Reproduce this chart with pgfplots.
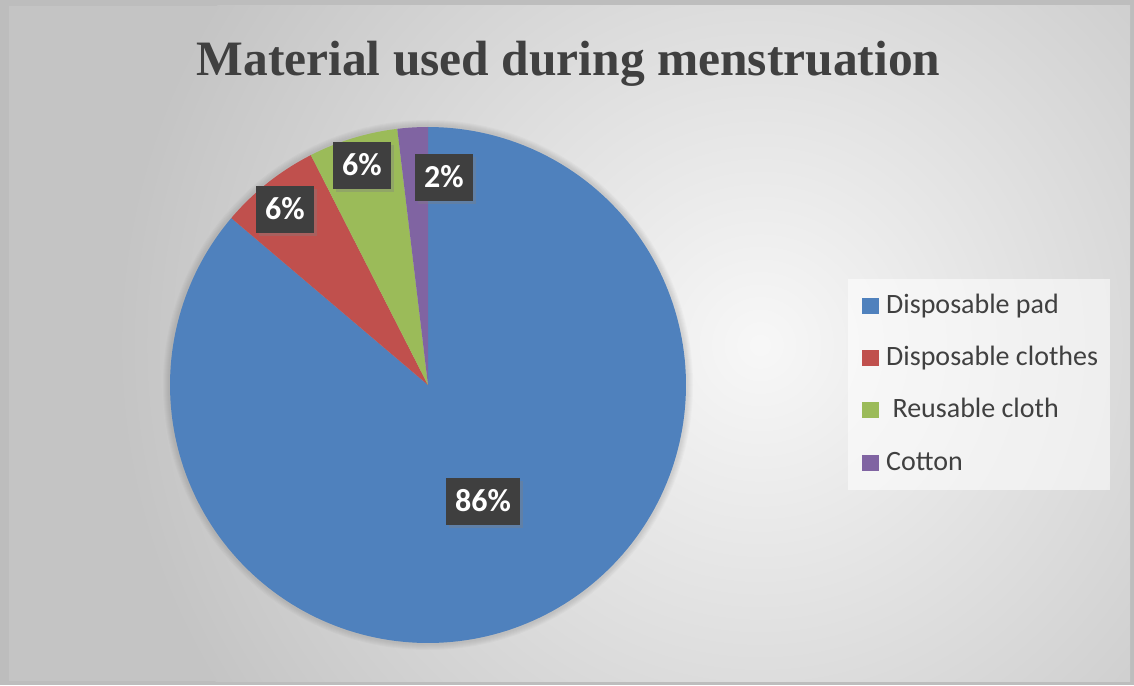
\documentclass[border=0pt]{standalone}
\usepackage{pgfplots}
\pgfplotsset{compat=1.18}
\usepackage{pgfplotstable}
\usepackage{fontspec}
\setmainfont{Liberation Serif}
\newfontfamily\calibri{Carlito}
\usetikzlibrary{shadows}
\definecolor{pieblue}{HTML}{4F81BD}
\definecolor{piered}{HTML}{C0504D}
\definecolor{piegreen}{HTML}{9BBB59}
\definecolor{piepurple}{HTML}{8064A2}
\definecolor{txtgray}{HTML}{404040}
\definecolor{boxgray}{HTML}{3F3F3F}

\pgfplotstableread{
label value
pad 86.2
clothes 6.3
reuse 5.6
cotton 1.9
}\piedata

\begin{document}
\begin{tikzpicture}
\pgfplotstablegetelem{0}{value}\of\piedata \let\vA\pgfplotsretval
\pgfplotstablegetelem{1}{value}\of\piedata \let\vB\pgfplotsretval
\pgfplotstablegetelem{2}{value}\of\piedata \let\vC\pgfplotsretval
\pgfplotstablegetelem{3}{value}\of\piedata \let\vD\pgfplotsretval
\pgfmathsetmacro\aO{90}
\pgfmathsetmacro\aA{\aO-3.6*\vA}
\pgfmathsetmacro\aB{\aA-3.6*\vB}
\pgfmathsetmacro\aC{\aB-3.6*\vC}
\pgfmathsetmacro\aD{\aC-3.6*\vD}
\begin{axis}[
  x=1pt, y=1pt,
  xmin=0, xmax=1134, ymin=0, ymax=685,
  scale only axis, hide axis, clip=false,
]
% background
\fill[black!26] (axis cs:0,0) rectangle (axis cs:1134,685);
\begin{scope}
\clip (axis cs:9,4) rectangle (axis cs:1130,679);
\fill[black!23] (axis cs:9,4) rectangle (axis cs:1130,679);
\shade[inner color=white!97!black, outer color=black!23] (axis cs:760,340) circle[radius=640pt];
\end{scope}
% pie shadow
\fill[black, opacity=0.02] (axis cs:428,300) circle[radius=265pt];
\fill[black, opacity=0.02] (axis cs:428,300) circle[radius=264pt];
\fill[black, opacity=0.02] (axis cs:428,300) circle[radius=263pt];
\fill[black, opacity=0.02] (axis cs:428,300) circle[radius=262pt];
\fill[black, opacity=0.02] (axis cs:428,300) circle[radius=261pt];
\fill[black, opacity=0.02] (axis cs:428,300) circle[radius=260pt];
% pie slices
\addplot[draw=none, fill=pieblue, domain=\aA:\aO, samples=200, variable=\t]
  ({428+258*cos(\t)}, {300+258*sin(\t)}) -- (axis cs:428,300) -- cycle;
\addplot[draw=none, fill=piered, domain=\aB:\aA, samples=30, variable=\t]
  ({428+258*cos(\t)}, {300+258*sin(\t)}) -- (axis cs:428,300) -- cycle;
\addplot[draw=none, fill=piegreen, domain=\aC:\aB, samples=30, variable=\t]
  ({428+258*cos(\t)}, {300+258*sin(\t)}) -- (axis cs:428,300) -- cycle;
\addplot[draw=none, fill=piepurple, domain=\aD:\aC, samples=20, variable=\t]
  ({428+258*cos(\t)}, {300+258*sin(\t)}) -- (axis cs:428,300) -- cycle;
% data labels
\tikzset{dlab/.style={fill=boxgray, text=white, font=\calibri\bfseries\fontsize{32}{32}\selectfont,
  inner xsep=9pt, minimum height=47pt, text height=20pt, text depth=0pt,
  drop shadow={shadow xshift=3pt, shadow yshift=-3pt, opacity=0.35}}}
\node[dlab] at (axis cs:483,183) {86\%};
\node[dlab] at (axis cs:285,475.5) {6\%};
\node[dlab] at (axis cs:362,519) {6\%};
\node[dlab] at (axis cs:444,507.5) {2\%};
% title
\node[anchor=base, text=txtgray, font=\bfseries\fontsize{49.5}{50}\selectfont] at (axis cs:568.5,609) {Material used during menstruation};
% legend
\fill[white, opacity=0.55] (axis cs:848,195) rectangle (axis cs:1110,406);
\tikzset{ltext/.style={anchor=base west, text=txtgray, inner sep=0pt, font=\calibri\fontsize{28}{28}\selectfont}}
\fill[pieblue] (axis cs:862,371) rectangle (axis cs:879,387);
\node[ltext] at (axis cs:886,371) {Disposable pad};
\fill[piered] (axis cs:862,319) rectangle (axis cs:879,335);
\node[ltext] at (axis cs:886,319) {Disposable clothes};
\fill[piegreen] (axis cs:862,267) rectangle (axis cs:879,283);
\node[ltext] at (axis cs:886,267) {\ Reusable cloth};
\fill[piepurple] (axis cs:862,214) rectangle (axis cs:879,230);
\node[ltext] at (axis cs:886,214) {Cotton};
\end{axis}
\end{tikzpicture}
\end{document}
